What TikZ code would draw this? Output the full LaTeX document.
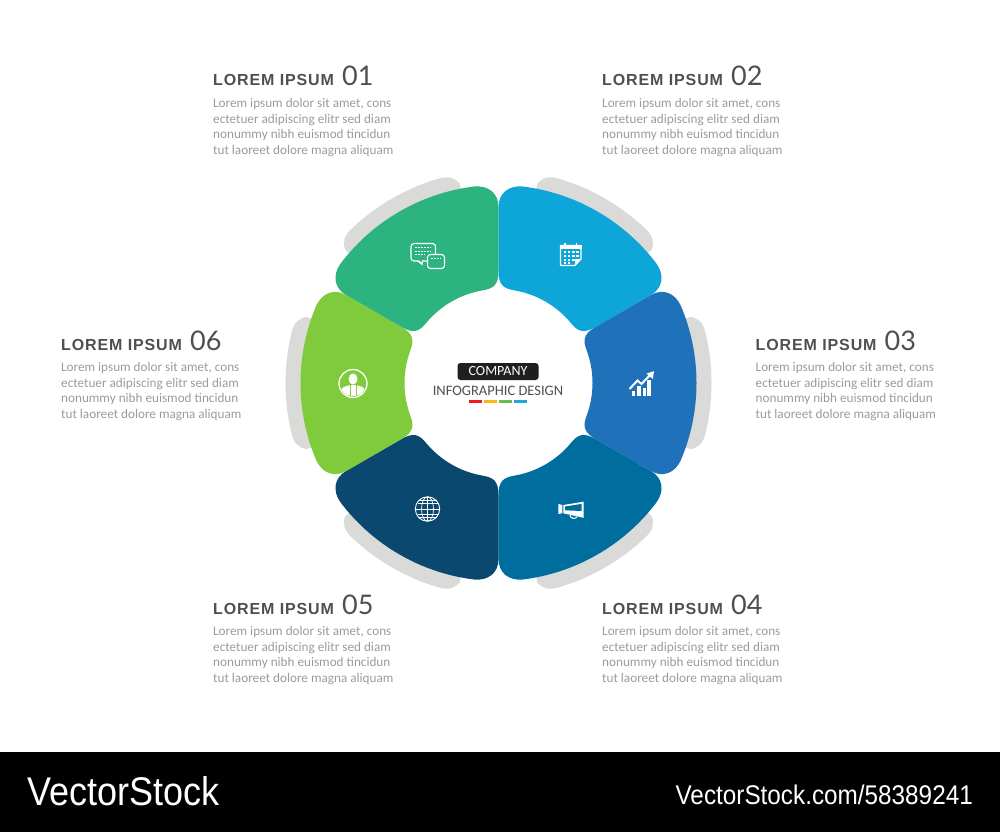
\documentclass[tikz,border=0pt]{standalone}
\usepackage{fontspec}
\setmainfont{Carlito}
\newfontfamily\headfont[LetterSpace=5.5]{Liberation Sans}
\newfontfamily\numfont{Lato}
\newfontfamily\logofont[FakeStretch=0.9]{Liberation Sans}
\definecolor{segone}{HTML}{2DB380}
\definecolor{segtwo}{HTML}{0EA5D9}
\definecolor{segthree}{HTML}{1F71BA}
\definecolor{segfour}{HTML}{006D9F}
\definecolor{segfive}{HTML}{0B4870}
\definecolor{segsix}{HTML}{80CB3C}
\definecolor{shadowgrey}{HTML}{DADAD9}
\definecolor{headgrey}{HTML}{4D4F53}
\definecolor{bodygrey}{HTML}{9A9B9D}
\definecolor{barred}{HTML}{ED1C24}
\definecolor{baryellow}{HTML}{FDB913}
\definecolor{bargreen}{HTML}{6ABD45}
\definecolor{barblue}{HTML}{1CA7E0}
\tikzset{
    headtext/.style={anchor=base west,inner sep=0pt,text=headgrey,font=\headfont\bfseries\fontsize{16}{16}\selectfont},
    numtext/.style={anchor=base west,inner sep=0pt,text=headgrey,font=\numfont\fontsize{27}{27}\selectfont},
    bodytext/.style={anchor=north west,inner sep=0pt,align=left,text=bodygrey,font=\fontsize{13.2}{15.5}\selectfont},
    iconline/.style={draw=white,line width=1.1pt,line join=round},
    iconthin/.style={draw=white,line width=0.7pt},
}
\begin{document}
\begin{tikzpicture}[x=1pt,y=-1pt]
    \useasboundingbox (0,0) rectangle (1000,832);
    \foreach \k in {0,...,5}
        \fill[shadowgrey,shift={(498.5,383)},y=1pt,rotate=-60*\k]
            (79:190) -- (79:203) .. controls (78:210) and (76.5:213) .. (74:213)
            arc[start angle=74,end angle=46,radius=213pt]
            .. controls (43.5:213) and (42:210) .. (41:203) -- (41:190) -- cycle;
    \foreach \k/\segcol in {0/segtwo,1/segthree,2/segfour,3/segfive,4/segsix,5/segone}
        \fill[\segcol,shift={(498.5,383)},y=1pt,rotate=-60*\k]
            (90:112) .. controls (90:98) and (87:94.5) .. (80:94)
            arc[start angle=80,end angle=40,radius=94pt]
            .. controls (33:94.5) and (30:98) .. (30:112)
            -- (30:176) .. controls (30:190) and (33:198) .. (37:198)
            arc[start angle=37,end angle=83,radius=198pt]
            .. controls (87:198) and (90:190) .. (90:176) -- cycle;
    \foreach \n/\tx/\ty in {01/213/86,02/602/86,03/755.5/350,04/602/614,05/213/614,06/61/350} {
        \node[headtext] (head\n) at (\tx,\ty) {LOREM IPSUM};
        \node[numtext] (num\n) at ({\tx+129},\ty) {\n};
        \node[bodytext] (body\n) at (\tx,{\ty+12.5}) {Lorem ipsum dolor sit amet, cons\\ectetuer adipiscing elitr sed diam\\nonummy nibh euismod tincidun\\tut laoreet dolore magna aliquam};
    }
    % centre
    \node[fill=black!88,rounded corners=3pt,minimum width=81pt,minimum height=17pt,inner sep=0pt,text=white,font=\fontsize{14}{14}\selectfont] (company) at (498,371.5) {COMPANY};
    \node[inner sep=0pt,text=headgrey,font=\fontsize{14.5}{14.5}\selectfont] (design) at (498,391) {INFOGRAPHIC DESIGN};
    \foreach \bx/\barcol in {469/barred,484/baryellow,499/bargreen,514/barblue}
        \fill[\barcol] (\bx,400.2) rectangle ({\bx+12.7},403.4);
    % chat
    \draw[iconline,rounded corners=3pt] (411,243.5) rectangle (435.5,261);
    \fill[white] (417,261) -- (422.5,265.5) -- (423,260) -- cycle;
    \fill[segone] (418.5,260) -- (422,262.5) -- (422,259) -- cycle;
    \draw[iconline,fill=segone,rounded corners=3pt] (427.5,254.5) rectangle (444.5,268.5);
    \draw[iconthin,line width=0.9pt,dash pattern=on 2pt off 1pt] (415,247.5) -- (431,247.5) (415,251) -- (431,251) (415,254.5) -- (425,254.5);
    \draw[iconthin,line width=0.9pt,dash pattern=on 2pt off 1pt] (431,258.5) -- (441,258.5);
    % calendar
    \draw[iconline] (575,265.5) -- (560.5,265.5) -- (560.5,245.5) -- (581,245.5) -- (581,259) -- cycle;
    \fill[white] (560,245) rectangle (581.5,248.5);
    \fill[white] (581.5,259) -- (575,259) -- (575,266) -- cycle;
    \draw[white,line width=1.2pt] (565,242.5) -- (565,246.5) (576.5,242.5) -- (576.5,246.5);
    \foreach \cx in {563.5,567.8,572.1,576.4}
        \foreach \cy in {250.5,254.5}
            \fill[white] (\cx,\cy) rectangle ({\cx+2.5},{\cy+2.5});
    \foreach \cx in {563.5,567.8,572.1}
        \fill[white] (\cx,258.5) rectangle ({\cx+2.5},261);
    \foreach \cx in {563.5,567.8}
        \fill[white] (\cx,262) rectangle ({\cx+2.5},264);
    % chart
    \foreach \cx/\cy in {631.8/391,637.3/386,642.5/387.5,647.4/380}
        \fill[white] (\cx,\cy) rectangle ({\cx+3.5},395.5);
    \draw[white,line width=2pt] (629.5,389) -- (637.5,380.5) -- (641.5,384) -- (650,375);
    \fill[white] (654,371.2) -- (652.8,379) -- (646.5,373.5) -- cycle;
    % megaphone
    \fill[white] (558.3,504) -- (562.3,505) -- (562.3,513.3) -- (558.3,514) -- cycle;
    \fill[white] (563.3,505) -- (583.5,501.7) -- (583.5,517.8) -- (563.3,513.3) -- cycle;
    \fill[segfour] (565,506.5) -- (581.5,503.9) -- (581.5,511) -- (565,510.3) -- cycle;
    \draw[white,line width=1pt] (570,515) .. controls (570,518.5) and (575,519.5) .. (577,517);
    % globe
    \draw[iconthin,line width=0.9pt] (427.5,509) circle[radius=12.2pt];
    \draw[iconthin] (427.5,509) ellipse[x radius=6pt,y radius=12.2pt];
    \draw[iconthin] (427.5,496.8) -- (427.5,521.2) (415.3,509) -- (439.7,509);
    \draw[iconthin] (418.5,500.8) -- (436.5,500.8) (417.5,503.5) -- (437.5,503.5) (417.5,514.5) -- (437.5,514.5) (419,517.5) -- (436,517.5);
    % person
    \draw[iconline,line width=1.3pt] (353,383.5) circle[radius=14pt];
    \fill[white] (353,379) ellipse[x radius=4.4pt,y radius=5.6pt];
    \begin{scope}
        \clip (353,383.5) circle[radius=12.8pt];
        \fill[white,rounded corners=3pt] (341,399) -- (341,388) -- (349.5,385) -- (356.5,385) -- (365,388) -- (365,399) -- cycle;
        \draw[segsix,line width=0.8pt] (350,385) -- (350,399) (356,385) -- (356,399);
    \end{scope}
    % footer
    \fill[black] (0,752) rectangle (1000,832);
    \node[anchor=base west,inner sep=0pt,text=white,font=\logofont\fontsize{40}{40}\selectfont] (logo) at (27,805) {VectorStock};
    \node[anchor=base east,inner sep=0pt,text=white,font=\logofont\fontsize{27}{27}\selectfont] (url) at (973,804) {VectorStock.com/58389241};
\end{tikzpicture}
\end{document}
